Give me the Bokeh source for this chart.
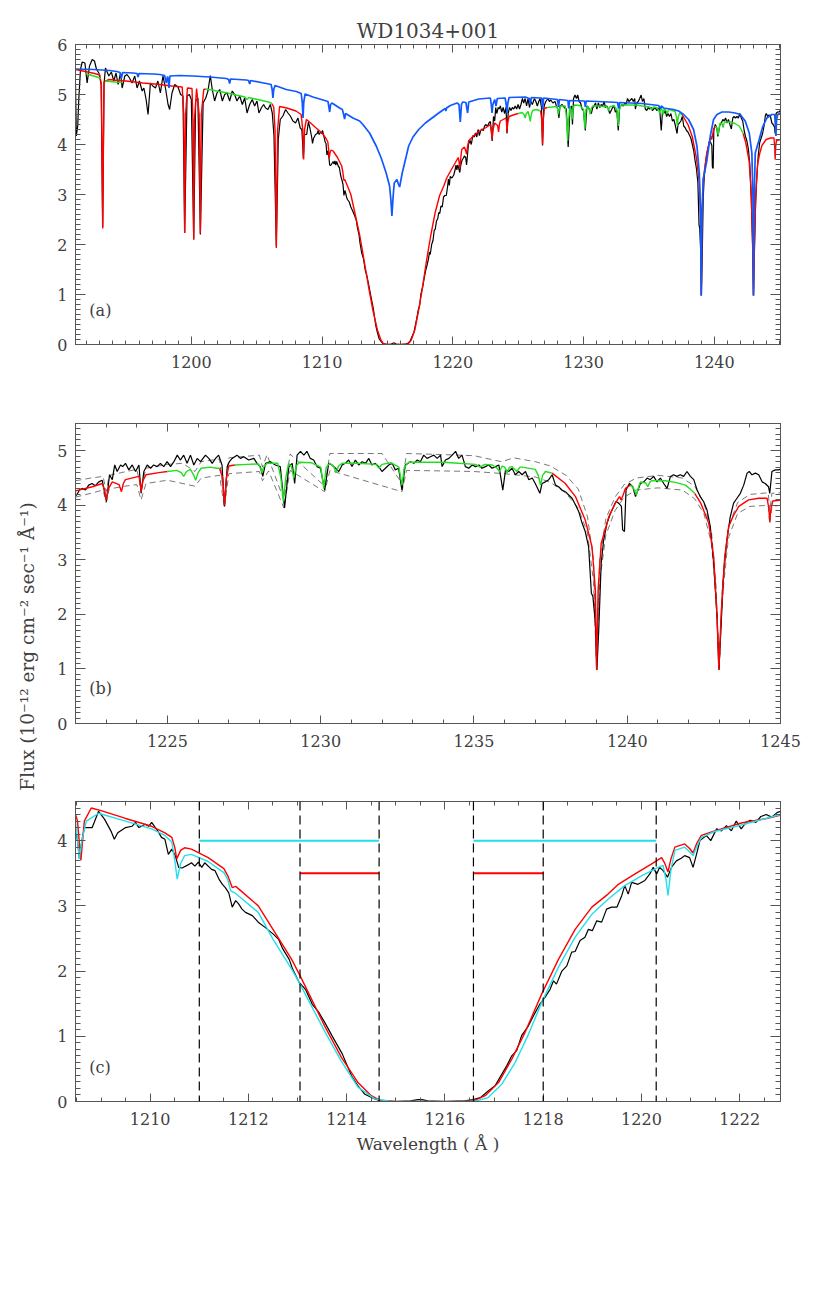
from math import pi
from bokeh.plotting import figure
from bokeh.models import Range1d, LinearAxis, SingleIntervalTicker, Label, Span, Title
from bokeh.layouts import column, row
from bokeh.embed import file_html
from bokeh.resources import INLINE

nan = float("nan")

# ---------------- data (wavelength in Angstrom, flux in 1e-12 erg/cm2/s/A) -------------
observed = [
 (1191.14,5.23),(1191.20,4.17),(1191.31,4.37),(1191.39,4.90),(1191.52,5.50),(1191.65,5.65),(1191.86,5.63),
 (1192.03,5.23),(1192.21,5.57),(1192.42,5.70),(1192.59,5.67),(1192.75,5.50),(1192.93,5.43),(1193.10,5.20),
 (1193.22,2.35),(1193.32,5.20),(1193.43,5.53),(1193.56,5.45),(1193.69,5.37),(1193.88,5.45),(1194.07,5.27),
 (1194.24,5.43),(1194.40,5.20),(1194.58,5.43),(1194.71,5.13),(1194.91,5.37),(1195.08,5.40),(1195.27,5.33),
 (1195.47,5.23),(1195.67,5.37),(1195.85,5.13),(1196.03,5.27),(1196.24,5.07),(1196.37,5.13),(1196.54,4.90),
 (1196.69,4.60),(1196.87,5.23),(1197.05,5.17),(1197.26,5.13),(1197.44,5.27),(1197.63,5.03),(1197.83,5.37),
 (1198.04,5.10),(1198.22,4.80),(1198.34,4.70),(1198.52,5.03),(1198.73,5.20),(1198.98,5.15),(1199.18,5.00),
 (1199.36,4.97),(1199.49,2.23),(1199.67,4.97),(1199.85,5.00),(1200.00,4.90),(1200.18,2.10),(1200.33,4.87),
 (1200.50,4.93),(1200.69,2.20),(1200.90,4.83),(1201.10,4.93),(1201.27,5.07),(1201.45,5.38),(1201.60,5.10),
 (1201.78,4.87),(1201.96,5.03),(1202.17,5.10),(1202.37,4.87),(1202.55,5.00),(1202.73,5.03),(1202.93,4.87),
 (1203.13,5.07),(1203.31,5.00),(1203.49,4.87),(1203.70,4.97),(1203.90,4.80),(1204.08,4.93),(1204.26,4.63),
 (1204.46,4.80),(1204.66,4.90),(1204.84,4.77),(1205.02,4.87),(1205.17,4.63),(1205.35,4.73),(1205.53,4.80),
 (1205.68,4.73),(1205.86,4.70),(1206.04,4.80),(1206.19,4.63),(1206.32,4.17),(1206.50,1.97),(1206.65,4.10),
 (1206.80,4.50),(1207.00,4.57),(1207.21,4.70),(1207.39,4.63),(1207.57,4.57),(1207.77,4.47),(1207.97,4.43),
 (1208.15,4.53),(1208.33,4.33),(1208.45,4.30),(1208.52,4.00),(1208.56,3.72),(1208.61,4.00),(1208.66,4.20),
 (1208.82,4.20),(1208.95,4.45),(1209.07,4.33),(1209.20,4.15),(1209.27,4.02),(1209.34,4.12),(1209.50,4.20),
 (1209.63,4.22),(1209.70,4.28),(1209.77,4.20),(1209.90,4.25),(1209.97,4.22),(1210.03,4.28),(1210.17,4.13),
 (1210.23,4.05),(1210.30,4.02),(1210.37,3.79),(1210.44,3.87),(1210.51,3.77),(1210.58,3.59),(1210.65,3.58),
 (1210.80,3.64),(1210.84,3.66),(1210.91,3.61),(1210.98,3.67),(1211.05,3.59),(1211.11,3.66),(1211.25,3.56),
 (1211.32,3.54),(1211.40,3.41),(1211.47,3.33),(1211.53,3.28),(1211.60,3.20),(1211.67,2.98),(1211.74,3.08),
 (1211.80,3.03),(1211.87,2.95),(1211.94,2.90),(1212.08,2.85),(1212.20,2.75),(1212.34,2.67),(1212.50,2.57),
 (1212.61,2.49),(1212.70,2.34),(1212.83,2.18),(1212.90,2.03),(1213.03,1.83),(1213.16,1.72),(1213.30,1.49),
 (1213.43,1.37),(1213.57,1.19),(1213.70,1.01),(1213.91,0.73),(1214.10,0.39),(1214.23,0.24),(1214.37,0.11),
 (1214.57,0.04),(1214.70,0.01),(1215.00,0.00),(1215.30,0.01),(1215.45,0.03),(1215.53,0.03),(1215.65,0.01),
 (1216.00,0.00),(1216.40,0.01),(1216.58,0.03),(1216.72,0.06),(1216.88,0.16),(1217.02,0.24),(1217.12,0.37),
 (1217.26,0.55),(1217.36,0.70),(1217.46,0.78),(1217.56,1.01),(1217.70,1.16),(1217.80,1.31),(1217.93,1.49),
 (1218.04,1.60),(1218.14,1.72),(1218.21,1.85),(1218.27,1.80),(1218.38,2.00),(1218.48,2.08),(1218.58,2.29),
 (1218.65,2.30),(1218.75,2.47),(1218.85,2.52),(1218.92,2.64),(1219.00,2.62),(1219.09,2.77),(1219.19,2.75),
 (1219.29,2.95),(1219.39,2.98),(1219.50,2.98),(1219.60,3.16),(1219.66,3.31),(1219.73,3.18),(1219.80,3.36),
 (1219.93,3.33),(1220.07,3.39),(1220.17,3.49),(1220.24,3.59),(1220.31,3.49),(1220.37,3.59),(1220.44,3.54),
 (1220.53,3.44),(1220.61,3.59),(1220.71,3.69),(1220.81,3.73),(1220.88,3.77),(1220.98,3.74),(1221.05,3.59),
 (1221.12,3.79),(1221.19,4.00),(1221.32,4.08),(1221.41,4.00),(1221.53,4.18),(1221.63,4.15),(1221.73,4.23),
 (1221.83,4.15),(1221.93,4.30),(1222.03,4.18),(1222.13,4.28),(1222.22,4.31),(1222.33,4.28),(1222.43,4.37),
 (1222.54,4.40),(1222.65,4.36),(1222.76,4.43),(1222.87,4.46),(1223.01,4.07),(1223.11,4.56),(1223.20,4.47),
 (1223.28,4.74),(1223.36,4.62),(1223.47,4.74),(1223.54,4.71),(1223.63,4.77),(1223.74,4.65),(1223.85,4.74),
 (1223.96,4.62),(1224.07,4.74),(1224.14,4.22),(1224.23,4.62),(1224.34,4.74),(1224.45,4.68),(1224.55,4.74),
 (1224.66,4.71),(1224.77,4.77),(1224.88,4.71),(1224.99,4.80),(1225.10,4.71),(1225.21,4.80),(1225.32,4.92),
 (1225.42,4.83),(1225.53,4.92),(1225.64,4.77),(1225.75,4.92),(1225.86,4.74),(1225.97,4.86),(1226.08,4.80),
 (1226.24,4.92),(1226.35,4.86),(1226.46,4.77),(1226.57,4.86),(1226.67,4.92),(1226.78,4.74),(1226.86,3.98),
 (1226.95,4.71),(1227.02,4.80),(1227.11,4.86),(1227.27,4.92),(1227.38,4.86),(1227.49,4.89),(1227.65,4.83),
 (1227.82,4.86),(1227.92,4.77),(1228.03,4.71),(1228.11,4.53),(1228.20,4.77),(1228.36,4.80),(1228.52,4.74),
 (1228.68,4.71),(1228.82,3.95),(1228.96,4.71),(1229.07,4.77),(1229.15,4.40),(1229.23,4.92),(1229.34,4.99),
 (1229.45,4.92),(1229.55,4.99),(1229.66,4.86),(1229.77,4.83),(1229.88,4.71),(1229.99,4.68),(1230.13,4.28),
 (1230.26,4.77),(1230.37,4.74),(1230.48,4.68),(1230.59,4.62),(1230.70,4.74),(1230.80,4.77),(1230.91,4.83),
 (1231.02,4.71),(1231.13,4.83),(1231.24,4.74),(1231.35,4.80),(1231.46,4.77),(1231.57,4.86),(1231.67,4.74),
 (1231.78,4.77),(1231.89,4.71),(1232.00,4.62),(1232.11,4.68),(1232.22,4.74),(1232.33,4.77),(1232.43,4.65),
 (1232.54,4.68),(1232.65,4.28),(1232.76,4.74),(1232.93,4.80),(1233.04,4.77),(1233.15,4.83),(1233.25,4.80),
 (1233.36,4.92),(1233.47,4.86),(1233.58,4.89),(1233.69,4.92),(1233.80,4.86),(1233.91,4.92),(1233.96,4.71),
 (1234.07,4.83),(1234.18,4.86),(1234.29,4.92),(1234.40,4.99),(1234.50,4.86),(1234.61,4.92),(1234.72,4.71),
 (1234.83,4.68),(1234.94,4.74),(1235.05,4.71),(1235.16,4.74),(1235.26,4.68),(1235.37,4.71),(1235.48,4.74),
 (1235.59,4.68),(1235.70,4.71),(1235.81,4.74),(1235.94,4.28),(1236.03,4.65),(1236.13,4.62),(1236.24,4.68),
 (1236.35,4.56),(1236.46,4.62),(1236.57,4.56),(1236.68,4.62),(1236.79,4.47),(1236.90,4.50),(1237.00,4.40),
 (1237.15,4.22),(1237.22,4.40),(1237.33,4.43),(1237.44,4.47),(1237.55,4.56),(1237.66,4.37),(1237.76,4.34),
 (1237.87,4.28),(1237.98,4.25),(1238.09,4.19),(1238.20,4.13),(1238.31,4.01),(1238.42,3.88),(1238.53,3.67),
 (1238.63,3.52),(1238.74,3.24),(1238.83,2.39),(1238.88,2.33),(1238.96,1.84),(1239.01,0.98),(1239.07,1.71),
 (1239.15,2.94),(1239.23,3.36),(1239.34,3.67),(1239.45,3.85),(1239.56,3.98),(1239.63,4.07),(1239.72,4.04),
 (1239.81,3.98),(1239.85,3.55),(1239.91,3.52),(1239.96,4.28),(1240.07,4.40),(1240.18,4.34),(1240.27,4.16),
 (1240.35,4.28),(1240.43,4.40),(1240.54,4.43),(1240.65,4.50),(1240.75,4.47),(1240.86,4.53),(1240.97,4.43),
 (1241.08,4.50),(1241.19,4.40),(1241.30,4.31),(1241.41,4.53),(1241.51,4.56),(1241.62,4.53),(1241.73,4.56),
 (1241.84,4.53),(1241.95,4.62),(1242.06,4.53),(1242.17,4.47),(1242.28,4.28),(1242.38,4.16),(1242.49,4.07),
 (1242.60,3.92),(1242.71,3.61),(1242.82,2.94),(1242.93,1.96),(1242.99,0.98),(1243.07,1.90),(1243.15,2.81),
 (1243.25,3.36),(1243.36,3.79),(1243.47,4.04),(1243.58,4.13),(1243.69,4.22),(1243.80,4.37),(1243.91,4.59),
 (1243.98,4.62),(1244.07,4.56),(1244.18,4.59),(1244.29,4.56),(1244.40,4.43),(1244.50,4.40),(1244.61,4.34),
 (1244.65,4.22),(1244.72,4.62),(1244.83,4.65),(1244.94,4.65),(1245.06,4.68),
]

red_model = [
 (1191.14,5.50),(1191.90,5.46),(1192.60,5.42),(1193.00,5.39),(1193.12,5.20),(1193.18,3.50),(1193.22,2.32),
 (1193.26,3.50),(1193.32,5.25),(1193.70,5.30),(1194.40,5.28),(1195.00,5.27),(1196.30,5.23),(1197.60,5.20),
 (1198.50,5.17),(1199.30,5.15),(1199.42,4.60),(1199.49,2.23),(1199.56,4.60),(1199.70,5.13),(1200.05,5.12),
 (1200.12,4.50),(1200.18,2.10),(1200.24,4.50),(1200.40,5.12),(1200.60,4.60),(1200.69,2.22),(1200.76,4.60),
 (1200.95,5.10),(1201.10,5.11),(nan,nan),
 (1206.15,4.82),(1206.30,4.75),(1206.40,4.30),(1206.50,1.93),(1206.60,4.30),(1206.75,4.76),(1207.30,4.73),
 (1208.00,4.67),(1208.40,4.60),(1208.52,4.30),(1208.59,3.70),(1208.66,4.30),(1208.80,4.50),(1209.00,4.46),
 (1209.50,4.34),(1210.03,4.22),(1210.30,4.12),(1210.44,4.05),(1210.50,3.90),(1210.54,3.72),(1210.62,3.85),
 (1210.70,3.89),(1210.84,3.87),(1211.18,3.74),(1211.50,3.57),(1211.58,3.46),(1211.67,3.28),(1211.74,3.30),
 (1211.80,3.26),(1212.20,3.00),(1212.50,2.64),(1212.88,2.18),(1213.05,1.93),(1213.20,1.70),(1213.55,1.16),
 (1213.89,0.68),(1214.23,0.29),(1214.50,0.09),(1214.67,0.02),(1215.00,0.00),(1216.00,0.00),(1216.58,0.01),
 (1216.82,0.09),(1217.09,0.29),(1217.36,0.65),(1217.63,1.06),(1217.97,1.65),(1218.31,2.18),(1218.65,2.64),
 (1218.99,2.98),(1219.32,3.18),(1219.53,3.33),(1219.87,3.49),(1220.20,3.64),(1220.41,3.74),(1220.47,3.66),
 (1220.54,3.52),(1220.60,3.72),(1220.68,3.90),(1220.88,3.95),(1220.98,3.88),(1221.05,3.81),(1221.12,3.95),
 (1221.22,4.08),(1221.49,4.15),(1222.03,4.27),(1222.55,4.34),(1222.87,4.40),(1222.94,4.30),(1223.00,4.10),
 (1223.07,4.30),(1223.20,4.43),(1223.42,4.38),(1223.50,4.25),(1223.56,4.40),(1223.63,4.47),(1224.07,4.53),
 (1224.10,4.45),(1224.14,4.25),(1224.20,4.45),(1224.30,4.56),(1224.72,4.60),(1225.00,4.62),(nan,nan),
 (1226.70,4.68),(1226.80,4.50),(1226.86,4.00),(1226.92,4.50),(1227.00,4.72),(1227.20,4.74),(nan,nan),
 (1237.55,4.59),(1237.98,4.40),(1238.31,4.16),(1238.63,3.73),(1238.85,3.24),(1238.96,2.45),(1239.00,0.98),
 (1239.05,2.45),(1239.15,3.30),(1239.40,3.79),(1239.61,4.04),(1239.75,4.16),(1239.80,4.10),(1239.86,4.18),
 (1239.94,4.31),(1240.10,4.37),(nan,nan),
 (1242.20,4.22),(1242.40,4.04),(1242.66,3.67),(1242.82,3.06),(1242.93,1.96),(1242.99,0.98),(1243.06,1.96),
 (1243.18,3.06),(1243.31,3.61),(1243.47,3.82),(1243.64,3.98),(1243.96,4.10),(1244.29,4.13),(1244.56,4.13),
 (1244.62,3.95),(1244.65,3.70),(1244.69,3.95),(1244.75,4.08),(1245.06,4.10),
]

green_model = [
 (1191.90,5.42),(1192.40,5.38),(1192.90,5.34),(1193.08,5.32),(nan,nan),
 (1193.40,5.27),(1193.80,5.26),(1194.20,5.25),(1194.70,5.24),(nan,nan),
 (1201.10,5.11),(1201.60,5.09),(1202.10,5.06),(1202.60,5.04),(1203.10,5.01),(1203.60,4.98),(1204.10,4.95),
 (1204.25,4.90),(1204.40,4.94),(1204.90,4.91),(1205.40,4.88),(1205.90,4.85),(1206.15,4.82),(nan,nan),
 (1225.00,4.62),(1225.30,4.64),(1225.45,4.60),(1225.53,4.53),(1225.62,4.62),(1225.75,4.66),(1225.86,4.55),
 (1225.92,4.46),(1226.00,4.60),(1226.10,4.68),(1226.40,4.70),(1226.60,4.68),(1226.70,4.68),(nan,nan),
 (1227.20,4.74),(1227.60,4.75),(1227.97,4.76),(1228.03,4.68),(1228.08,4.60),(1228.14,4.70),(1228.25,4.77),
 (1228.60,4.77),(1228.70,4.50),(1228.78,4.07),(1228.86,4.50),(1228.95,4.77),(1229.05,4.70),(1229.12,4.50),
 (1229.20,4.72),(1229.30,4.79),(1229.70,4.78),(1230.00,4.70),(1230.10,4.31),(1230.18,4.70),(1230.30,4.77),
 (1230.42,4.72),(1230.50,4.60),(1230.58,4.72),(1230.70,4.77),(1231.20,4.77),(1231.80,4.75),(1231.90,4.68),
 (1232.00,4.75),(1232.30,4.78),(1232.55,4.70),(1232.65,4.37),(1232.73,4.70),(1232.87,4.79),(1233.40,4.79),
 (1234.00,4.79),(1234.50,4.77),(1235.05,4.75),(1235.20,4.70),(1235.35,4.75),(1235.60,4.74),(1235.75,4.68),
 (1235.83,4.62),(1235.92,4.72),(1236.00,4.70),(1236.08,4.60),(1236.16,4.70),(1236.24,4.71),(1236.40,4.62),
 (1236.50,4.70),(1236.57,4.70),(1237.00,4.66),(1237.10,4.55),(1237.17,4.37),(1237.24,4.55),(1237.33,4.62),
 (1237.55,4.59),(nan,nan),
 (1240.10,4.37),(1240.20,4.32),(1240.30,4.19),(1240.38,4.35),(1240.43,4.43),(1240.60,4.41),(1240.67,4.34),
 (1240.73,4.42),(1240.80,4.45),(1241.24,4.45),(1241.57,4.42),(1241.90,4.37),(1242.05,4.30),(1242.20,4.22),
]

blue_model = [
 (1191.14,5.51),(1192.50,5.50),(1193.76,5.48),(1194.30,5.46),(1194.55,5.44),(1194.65,5.33),(1194.75,5.44),
 (1195.54,5.43),(1195.85,5.42),(1195.92,5.35),(1196.00,5.42),(1197.07,5.41),(1197.60,5.40),(1197.95,5.38),
 (1198.09,5.23),(1198.18,5.36),(1198.24,5.30),(1198.29,5.13),(1198.36,5.37),(1199.10,5.38),(1200.13,5.37),
 (1201.40,5.35),(1202.68,5.32),(1202.85,5.30),(1202.93,5.22),(1203.00,5.31),(1204.20,5.29),(1204.38,5.28),
 (1204.46,5.21),(1204.54,5.28),(1205.73,5.22),(1206.10,5.20),(1206.18,5.10),(1206.24,4.93),(1206.30,5.10),
 (1206.40,5.18),(1207.26,5.10),(1208.03,5.06),(1208.40,5.02),(1208.48,4.85),(1208.54,4.53),(1208.60,4.85),
 (1208.70,5.01),(1209.30,4.95),(1210.07,4.89),(1210.45,4.86),(1210.52,4.75),(1210.58,4.65),(1210.65,4.80),
 (1210.75,4.83),(1211.34,4.73),(1211.55,4.70),(1211.65,4.60),(1211.72,4.51),(1211.80,4.62),(1212.36,4.53),
 (1212.87,4.47),(1213.12,4.40),(1213.63,4.23),(1214.14,3.97),(1214.52,3.73),(1214.90,3.43),(1215.16,3.17),
 (1215.26,2.90),(1215.34,2.57),(1215.43,2.95),(1215.52,3.23),(1215.72,3.30),(1215.85,3.20),(1215.93,3.15),
 (1216.13,3.43),(1216.44,3.77),(1216.62,3.97),(1216.95,4.15),(1217.39,4.30),(1217.90,4.43),(1218.41,4.53),
 (1218.92,4.63),(1219.30,4.70),(1219.43,4.72),(1219.47,4.67),(1219.52,4.73),(1219.81,4.78),(1220.32,4.83),
 (1220.47,4.80),(1220.57,4.45),(1220.66,4.80),(1220.75,4.85),(1221.00,4.84),(1221.13,4.63),(1221.22,4.85),
 (1221.98,4.91),(1222.87,4.93),(1222.94,4.80),(1223.00,4.63),(1223.06,4.80),(1223.20,4.90),(1223.30,4.77),
 (1223.40,4.92),(1224.00,4.93),(1224.08,4.80),(1224.14,4.63),(1224.20,4.82),(1224.30,4.94),(1225.54,4.95),
 (1225.85,4.92),(1225.93,4.80),(1226.00,4.94),(1226.80,4.93),(1226.87,4.70),(1226.94,4.93),(1228.00,4.90),
 (1228.09,4.75),(1228.15,4.90),(1228.80,4.88),(1228.86,4.72),(1228.92,4.88),(1230.07,4.87),(1230.13,4.75),
 (1230.20,4.87),(1231.90,4.85),(1232.60,4.84),(1232.68,4.72),(1232.76,4.84),(1234.46,4.82),(1235.74,4.78),
 (1235.88,4.72),(1235.95,4.77),(1236.12,4.73),(1236.88,4.70),(1237.27,4.67),(1237.65,4.60),(1238.03,4.50),
 (1238.41,4.30),(1238.67,3.97),(1238.85,3.43),(1238.95,2.60),(1239.00,0.98),(1239.05,2.60),(1239.15,3.30),
 (1239.43,3.68),(1239.69,4.17),(1239.94,4.50),(1240.20,4.60),(1240.58,4.65),(1241.09,4.65),(1241.60,4.63),
 (1241.98,4.60),(1242.36,4.47),(1242.67,4.23),(1242.87,3.83),(1242.95,2.97),(1243.00,0.98),(1243.05,2.97),
 (1243.13,3.83),(1243.43,4.10),(1243.69,4.35),(1244.02,4.53),(1244.40,4.60),(1244.62,4.60),(1244.67,4.35),
 (1244.71,4.17),(1244.76,4.50),(1244.85,4.60),(1245.06,4.63),
]

upper_model = [
 (1222.00,4.45),(1222.50,4.50),(1222.90,4.53),(1223.00,4.25),(1223.10,4.55),(1223.50,4.60),(1224.00,4.66),
 (1224.14,4.30),(1224.30,4.68),(1225.00,4.75),(1225.50,4.77),(1225.90,4.62),(1226.10,4.80),(1226.70,4.85),
 (1226.86,4.05),(1227.00,4.87),(1228.00,4.92),(1228.10,4.70),(1228.25,4.93),(1228.80,4.10),(1229.00,4.94),
 (1230.13,4.35),(1230.30,4.95),(1232.00,4.95),(1232.65,4.40),(1232.80,4.95),(1234.00,4.93),(1235.00,4.91),
 (1235.90,4.80),(1236.30,4.87),(1237.00,4.80),(1237.50,4.72),(1238.00,4.55),(1238.40,4.30),(1238.70,3.80),
 (1238.90,3.00),(1239.00,1.00),(1239.10,3.00),(1239.30,3.75),(1239.60,4.15),(1239.90,4.38),(1240.30,4.50),
 (1241.00,4.55),(1241.80,4.50),(1242.20,4.35),(1242.50,4.05),(1242.75,3.50),(1242.90,2.50),(1243.00,1.00),
 (1243.10,2.50),(1243.30,3.60),(1243.60,4.05),(1244.00,4.20),(1244.60,4.23),(1244.65,3.90),(1244.72,4.22),
 (1245.00,4.23),
]

lower_model = [
 (1222.00,4.15),(1222.50,4.22),(1222.90,4.28),(1223.00,4.05),(1223.10,4.30),(1223.60,4.35),(1224.00,4.38),
 (1224.14,4.10),(1224.30,4.40),(1225.00,4.46),(1225.90,4.35),(1226.10,4.50),(1226.70,4.55),(1226.86,3.95),
 (1227.00,4.58),(1228.00,4.62),(1228.10,4.45),(1228.30,4.63),(1228.80,3.95),(1229.00,4.64),(1230.13,4.25),
 (1230.30,4.64),(1232.65,4.25),(1232.80,4.64),(1234.00,4.63),(1235.00,4.62),(1236.00,4.58),(1237.00,4.52),
 (1237.50,4.42),(1238.00,4.22),(1238.40,3.95),(1238.70,3.50),(1238.90,2.60),(1239.00,0.98),(1239.10,2.60),
 (1239.30,3.45),(1239.60,3.90),(1239.90,4.15),(1240.30,4.28),(1241.00,4.32),(1241.80,4.28),(1242.20,4.12),
 (1242.50,3.85),(1242.75,3.30),(1242.90,2.30),(1243.00,0.98),(1243.10,2.30),(1243.30,3.40),(1243.60,3.85),
 (1244.00,3.98),(1244.60,4.00),(1244.65,3.65),(1244.72,3.98),(1245.00,4.00),
]

cyan_model = [
 (1208.48,4.30),(1208.52,4.00),(1208.56,3.72),(1208.61,4.00),(1208.70,4.30),(1208.95,4.42),(1209.50,4.30),
 (1210.03,4.18),(1210.30,4.08),(1210.44,3.98),(1210.50,3.70),(1210.55,3.41),(1210.62,3.65),(1210.70,3.77),
 (1210.84,3.79),(1211.18,3.68),(1211.50,3.51),(1211.58,3.40),(1211.64,3.23),(1211.72,3.20),(1211.80,3.15),
 (1212.20,2.90),(1212.50,2.49),(1212.88,2.03),(1213.05,1.80),(1213.55,1.08),(1213.89,0.62),(1214.23,0.22),
 (1214.57,0.04),(1214.90,0.00),(1216.60,0.00),(1216.88,0.06),(1217.16,0.27),(1217.43,0.60),(1217.70,1.03),
 (1217.97,1.52),(1218.31,2.06),(1218.65,2.52),(1218.99,2.87),(1219.32,3.10),(1219.66,3.31),(1220.00,3.46),
 (1220.34,3.59),(1220.44,3.62),(1220.50,3.40),(1220.54,3.16),(1220.60,3.55),(1220.68,3.85),(1220.88,3.90),
 (1220.98,3.83),(1221.05,3.77),(1221.12,3.90),(1221.22,4.05),(1221.49,4.14),(1222.03,4.24),(1222.83,4.40),
]

# fit-window markers of panel (c)
window_edges = [1211.00, 1213.05, 1214.66, 1216.58, 1218.00, 1220.30]
cyan_bar_start = [1211.00, 1216.58]
cyan_bar_end = [1214.66, 1220.30]
cyan_bar_level = [4.0, 4.0]
red_bar_start = [1213.05, 1216.58]
red_bar_end = [1214.66, 1218.00]
red_bar_level = [3.5, 3.5]

title_text = "WD1034+001"
ylabel_text = "Flux (10\u207b\u00b9\u00b2 erg cm\u207b\u00b2 sec\u207b\u00b9 \u00c5\u207b\u00b9)"
xlabel_text = "Wavelength ( \u00c5 )"

# ---------------- styling -------------
FONT = "DejaVu Serif"
AX = "#555555"
TXT = "#404040"
RED = "#ff0000"
GREEN = "#22dd22"
BLUE = "#1058ff"
CYAN = "#22e0ea"
SIDE_W = 50          # strip on the left holding the vertical axis title
W = 760              # width of each panel figure
H_A, H_B, H_C = 384, 409, 370


def unzip(pairs):
    return [a for a, b in pairs], [b for a, b in pairs]


def style_axis(ax, major, minor, show):
    ax.axis_line_color = AX
    ax.major_tick_line_color = AX
    ax.minor_tick_line_color = AX
    ax.major_tick_in = major
    ax.major_tick_out = 0
    ax.minor_tick_in = minor
    ax.minor_tick_out = 0
    if show:
        ax.major_label_text_font = FONT
        ax.major_label_text_font_size = "16px"
        ax.major_label_text_color = TXT
    else:
        ax.major_label_text_color = None
        ax.major_label_text_font_size = "1px"
        ax.major_label_standoff = 0


def make_fig(xr, yr, height, top, bottom, xint, xminor):
    p = figure(width=W, height=height, x_range=Range1d(*xr), y_range=Range1d(*yr),
               output_backend="svg", toolbar_location=None,
               x_axis_location=None, y_axis_location=None,
               min_border_left=25, min_border_right=W - 25 - 705,
               min_border_top=top, min_border_bottom=bottom)
    p.grid.visible = False
    p.outline_line_color = AX
    xt = SingleIntervalTicker(interval=xint, num_minor_ticks=xminor)
    yt = SingleIntervalTicker(interval=1, num_minor_ticks=10)
    for side in ("below", "above"):
        ax = LinearAxis(ticker=xt)
        style_axis(ax, 8, 4, side == "below")
        if side == "below":
            ax.major_label_standoff = 11
        p.add_layout(ax, side)
    for side in ("left", "right"):
        ax = LinearAxis(ticker=yt)
        style_axis(ax, 10, 5, side == "left")
        if side == "left":
            ax.major_label_standoff = 8
        p.add_layout(ax, side)
    return p


def panel_label(p, x, y, txt):
    p.add_layout(Label(x=x, y=y, text=txt, text_font=FONT, text_font_size="16px",
                       text_color=TXT, text_align="left", text_baseline="middle"))


ow, of = unzip(observed)
rw, rf = unzip(red_model)
gw, gf = unzip(green_model)
bw, bf = unzip(blue_model)
uw, uf = unzip(upper_model)
lw, lf = unzip(lower_model)
cw, cf = unzip(cyan_model)

# ---------------- panel (a) -------------
pa = make_fig((1191.14, 1245.06), (0, 6), H_A, 44, 40, 10, 10)
pa.title = Title(text=title_text, align="center", text_font=FONT, text_font_size="20px",
                 text_font_style="normal", text_color=TXT, standoff=4)
pa.line(ow, of, color="black", line_width=1.2)
pa.line(rw, rf, color=RED, line_width=1.4)
pa.line(gw, gf, color=GREEN, line_width=1.4)
pa.line(bw, bf, color=BLUE, line_width=1.7)
panel_label(pa, 1192.2, 0.69, "(a)")

# ---------------- panel (b) -------------
pb = make_fig((1222.0, 1245.0), (0, 5.5), H_B, 39, 70, 5, 5)
pb.line(uw, uf, color="#555555", line_width=0.8, line_dash="6 4")
pb.line(lw, lf, color="#555555", line_width=0.8, line_dash="6 4")
pb.line(ow, of, color="black", line_width=1.2)
pb.line(rw, rf, color=RED, line_width=1.4)
pb.line(gw, gf, color=GREEN, line_width=1.4)
panel_label(pb, 1222.45, 0.64, "(b)")

# ---------------- panel (c) -------------
pc = make_fig((1208.48, 1222.83), (0, 4.6), H_C, 8, 62, 2, 4)
pc.line(ow, of, color="black", line_width=1.2)
pc.line(rw, rf, color=RED, line_width=1.4)
pc.line(cw, cf, color=CYAN, line_width=1.4)
for v in window_edges:
    pc.add_layout(Span(location=v, dimension="height", line_color="black",
                       line_width=1.2, line_dash="9 5"))
pc.segment(x0=cyan_bar_start, x1=cyan_bar_end, y0=cyan_bar_level, y1=cyan_bar_level,
           color=CYAN, line_width=2)
pc.segment(x0=red_bar_start, x1=red_bar_end, y0=red_bar_level, y1=red_bar_level,
           color=RED, line_width=2)
panel_label(pc, 1208.76, 0.52, "(c)")
xa = pc.below[0]
xa.axis_label = xlabel_text
xa.axis_label_text_font = FONT
xa.axis_label_text_font_size = "17px"
xa.axis_label_text_font_style = "normal"
xa.axis_label_text_color = TXT
xa.axis_label_standoff = 6

# ---------------- left strip with the vertical axis title -------------
H_ALL = H_A + H_B + H_C
side = figure(width=SIDE_W, height=H_ALL, x_range=Range1d(0, SIDE_W), y_range=Range1d(H_ALL, 0),
              output_backend="svg", toolbar_location=None,
              x_axis_location=None, y_axis_location=None,
              min_border_left=0, min_border_right=0, min_border_top=0, min_border_bottom=0)
side.grid.visible = False
side.outline_line_color = None
side.add_layout(Label(x=27, y=646, text=ylabel_text, angle=pi / 2, text_font=FONT,
                      text_font_size="18.5px", text_color=TXT, text_align="center",
                      text_baseline="middle"))

layout = row(side, column(pa, pb, pc, spacing=0), spacing=0)
open("out.html", "w").write(file_html(layout, INLINE))
